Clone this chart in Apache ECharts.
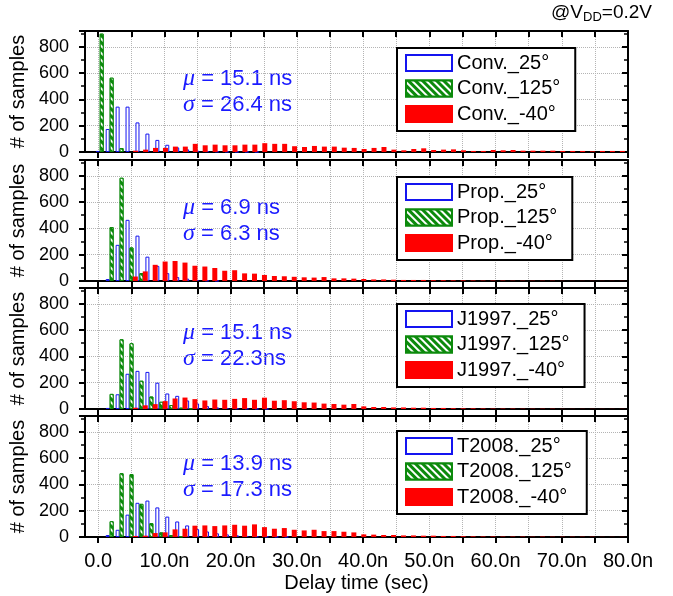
<!DOCTYPE html>
<html>
<head>
<meta charset="utf-8">
<title>Delay time histogram</title>
<script src="https://cdn.jsdelivr.net/npm/echarts@6/dist/echarts.min.js"></script>
<style>
  html, body { margin: 0; padding: 0; background: #fff; }
  #chart { width: 673px; height: 596px; }
</style>
</head>
<body>
<div id="chart"></div>
<script>
// histogram bins are 1.5 ns wide, x values in ns
const binWidth = 1.5
const panelNames = ['Conv.', 'Prop.', 'J1997.', 'T2008.']
const tempSuffix = ['_25°', '_125°', '_-40°']
const muLabels = ['15.1 ns', '6.9 ns', '15.1 ns', '13.9 ns']
const sigmaLabels = ['26.4 ns', '6.3 ns', '22.3ns', '17.3 ns']
const xTickValues = [0, 5, 10, 15, 20, 25, 30, 35, 40, 45, 50, 55, 60, 65, 70, 75, 80]
const xLabelValues = [0, 10, 20, 30, 40, 50, 60, 70, 80]
const yTickValues = [0, 200, 400, 600, 800]

// first bin centre of each series (ns): [25°, 125°, -40°]
const convStart = [0.0, 0.6, 5.65]
const conv25 = [8, 175, 345, 345, 225, 140, 92, 55, 35, 20, 10, 6, 4, 3, 2, 2, 1]
const conv125 = [900, 565, 30]
const convM40 = [10, 18, 31, 31, 41, 41, 62, 51, 56, 51, 51, 56, 56, 67, 62, 62, 44, 38, 46, 41,
  41, 33, 31, 23, 31, 38, 18, 13, 23, 28, 15, 18, 20, 13, 8, 8, 15, 13, 15, 10,
  10, 10, 10, 8, 8, 8, 5, 8, 8, 8]

const propStart = [1.5, 2.1, 5.6]
const prop25 = [15, 275, 465, 345, 185, 115, 60, 30, 18, 8, 4, 2]
const prop125 = [410, 785, 255, 60]
const propM40 = [34, 73, 123, 148, 152, 140, 116, 110, 99, 78, 82, 58, 56, 46, 38, 36, 32, 28, 26, 30,
  20, 20, 18, 15, 12, 12, 10, 8, 8, 8, 6, 6, 5, 5, 4, 3, 3, 3, 2, 2,
  2, 2, 2, 1, 1, 1, 1, 1, 1, 1]

const j1997Start = [1.5, 2.1, 5.6]
const j199725 = [8, 112, 268, 290, 282, 200, 118, 100, 65, 42, 22, 12, 8, 5, 4, 3, 2]
const j1997125 = [115, 530, 500, 215, 95, 55, 30, 10, 5]
const j1997M40 = [10, 28, 37, 60, 80, 87, 75, 65, 72, 70, 77, 83, 70, 86, 63, 67, 59, 51, 49, 41,
  38, 33, 38, 20, 15, 15, 12, 12, 10, 10, 8, 8, 6, 5, 5, 4, 3, 3, 3, 2,
  2, 2, 2, 1, 1, 1, 1, 1, 1, 1]

const t2008Start = [1.5, 2.1, 5.6]
const t200825 = [15, 55, 170, 260, 277, 225, 155, 118, 88, 60, 42, 28, 20, 13, 8, 5, 4, 3, 2]
const t2008125 = [120, 485, 478, 252, 105, 35, 15, 5]
const t2008M40 = [8, 10, 30, 35, 58, 63, 86, 88, 83, 88, 93, 86, 96, 75, 63, 68, 55, 50, 55, 45,
  45, 40, 35, 20, 18, 15, 15, 12, 12, 10, 10, 8, 8, 6, 5, 4, 4, 3, 3, 3,
  2, 3, 2, 2, 2, 2, 2, 1, 1, 1]

const panelStarts = [convStart, propStart, j1997Start, t2008Start]
const panelValues = [
  [conv25, conv125, convM40],
  [prop25, prop125, propM40],
  [j199725, j1997125, j1997M40],
  [t200825, t2008125, t2008M40]
]

// layout (px)
const gridTops = [31, 160, 288, 416]
const gridHeight = 121
const legendTops = [48, 177, 304, 431]
const statTops = [66, 195, 320, 451]

const font = '"Liberation Sans", Arial, sans-serif'
const blue = '#1414f0'
const green = '#0c8a0c'
const red = '#ff0000'
const statColor = '#1a1aff'

const hatch = {
  symbol: 'rect',
  symbolSize: 1,
  color: '#ffffff',
  dashArrayX: [1, 0],
  dashArrayY: [2, 2.5],
  rotation: Math.PI / 4
}

const frameLine = { show: true, onZero: false, lineStyle: { color: '#000', width: 2 } }
const gridLine = { show: true, lineStyle: { color: '#b4b4b4', type: 'dotted', width: 1 } }

const chart = echarts.init(document.getElementById('chart'))

const grid = []
const xAxis = []
const yAxis = []
const series = []
const legend = []
const graphic = []

panelNames.forEach((pname, i) => {
  const last = i === panelNames.length - 1
  grid.push({ left: 85, right: 45, top: gridTops[i], height: gridHeight })

  // bottom axis carries the data, top one only mirrors ticks
  xAxis.push({
    gridIndex: i,
    type: 'value',
    position: 'bottom',
    min: -2,
    max: 80,
    axisLine: frameLine,
    axisTick: { show: true, inside: false, length: 6, customValues: xTickValues, lineStyle: { color: '#000', width: 2 } },
    axisLabel: {
      show: last,
      customValues: xLabelValues,
      margin: 14,
      color: '#000',
      fontSize: 20,
      fontFamily: font,
      formatter: v => (v === 0 ? '0.0' : v.toFixed(1) + 'n')
    },
    splitLine: gridLine,
    name: last ? 'Delay time (sec)' : '',
    nameLocation: 'middle',
    nameGap: 36,
    nameTextStyle: { color: '#000', fontSize: 20, fontFamily: font }
  })
  xAxis.push({
    gridIndex: i,
    type: 'value',
    position: 'top',
    min: -2,
    max: 80,
    axisLine: frameLine,
    axisTick: { show: true, inside: true, length: 6, customValues: xTickValues, lineStyle: { color: '#000', width: 2 } },
    axisLabel: { show: false },
    splitLine: { show: false }
  })

  yAxis.push({
    gridIndex: i,
    type: 'value',
    position: 'left',
    min: 0,
    max: 920,
    interval: 200,
    axisLine: frameLine,
    axisTick: { show: true, inside: false, length: 6, lineStyle: { color: '#000', width: 2 } },
    minorTick: { show: true, splitNumber: 2, length: 4, lineStyle: { color: '#000', width: 1.5 } },
    axisLabel: {
      margin: 16,
      color: '#000',
      fontSize: 18,
      fontFamily: font,
      formatter: v => (yTickValues.indexOf(v) >= 0 ? String(v) : '')
    },
    splitLine: gridLine,
    name: '# of samples',
    nameLocation: 'middle',
    nameGap: 46,
    nameTextStyle: { color: '#000', fontSize: 20, fontFamily: font }
  })
  yAxis.push({
    gridIndex: i,
    type: 'value',
    position: 'right',
    min: 0,
    max: 920,
    interval: 200,
    axisLine: frameLine,
    axisTick: { show: true, inside: true, length: 6, lineStyle: { color: '#000', width: 2 } },
    minorTick: { show: true, splitNumber: 2, length: 4, lineStyle: { color: '#000', width: 1.5 } },
    axisLabel: { show: false },
    splitLine: { show: false }
  })

  const styles = [
    { color: '#ffffff', borderColor: blue, borderWidth: 1 },
    { color: green, borderColor: green, borderWidth: 1, decal: hatch },
    { color: red, borderColor: red, borderWidth: 0 }
  ]
  const widths = [4, 4, 5]
  const names = tempSuffix.map(t => pname + t)

  panelValues[i].forEach((vals, k) => {
    series.push({
      name: names[k],
      type: 'bar',
      xAxisIndex: i * 2,
      yAxisIndex: i * 2,
      barWidth: widths[k],
      barGap: '-100%',
      itemStyle: styles[k],
      data: vals.map((v, n) => [panelStarts[i][k] + n * binWidth, v])
    })
  })

  legend.push({
    orient: 'vertical',
    left: 397,
    top: legendTops[i],
    padding: [5, 15, 7, 8],
    itemWidth: 46,
    itemHeight: 16,
    itemGap: 5.5,
    icon: 'rect',
    selectedMode: false,
    backgroundColor: '#fff',
    borderColor: '#000',
    borderWidth: 2,
    itemStyle: { borderWidth: 2 },
    textStyle: { color: '#000', fontSize: 20, lineHeight: 20, fontFamily: font },
    data: names
  })

  // mean / sigma annotation
  graphic.push({
    type: 'text',
    left: 183,
    top: statTops[i],
    style: {
      text: '{g|μ} = ' + muLabels[i] + '\n{g|σ} = ' + sigmaLabels[i],
      fill: statColor,
      fontSize: 22,
      lineHeight: 26,
      fontFamily: font,
      rich: {
        g: { fontStyle: 'italic', fontFamily: '"Liberation Serif", serif', fontSize: 24, lineHeight: 26, fill: statColor }
      }
    }
  })
})

graphic.push({
  type: 'text',
  right: 21,
  top: 2,
  style: {
    text: '@V{s|DD}=0.2V',
    fill: '#000',
    fontSize: 19,
    lineHeight: 22,
    fontFamily: font,
    rich: {
      s: { fontSize: 13, verticalAlign: 'bottom', lineHeight: 22, fontFamily: font, fill: '#000' }
    }
  }
})

chart.setOption({
  animation: false,
  backgroundColor: '#fff',
  grid,
  xAxis,
  yAxis,
  legend,
  graphic,
  series
})
</script>
</body>
</html>
